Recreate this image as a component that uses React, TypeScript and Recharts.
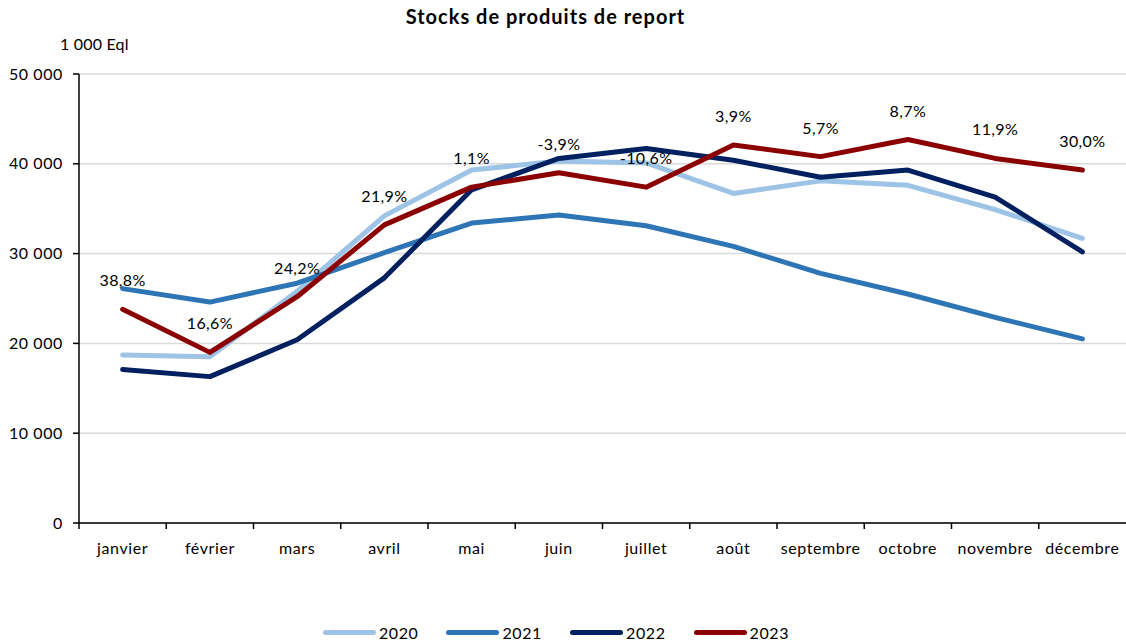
import { CartesianGrid, LabelList, Line, LineChart, XAxis, YAxis } from "recharts";

const months = [
  "janvier", "février", "mars", "avril", "mai", "juin",
  "juillet", "août", "septembre", "octobre", "novembre", "décembre",
];

const stock2020 = [18700, 18500, 25800, 34200, 39300, 40300, 40100, 36700, 38100, 37600, 34900, 31700];
const stock2021 = [26100, 24600, 26700, 30100, 33400, 34300, 33100, 30800, 27800, 25500, 22900, 20500];
const stock2022 = [17100, 16300, 20400, 27300, 37100, 40600, 41700, 40400, 38500, 39300, 36300, 30200];
const stock2023 = [23800, 19000, 25200, 33200, 37400, 39000, 37400, 42100, 40800, 42700, 40600, 39300];

const variations = [
  "38,8%", "16,6%", "24,2%", "21,9%", "1,1%", "-3,9%",
  "-10,6%", "3,9%", "5,7%", "8,7%", "11,9%", "30,0%",
];

const yTicks = [0, 10000, 20000, 30000, 40000, 50000];

const series = [
  { key: "y2020", name: "2020", values: stock2020, color: "#9DC3E6" },
  { key: "y2021", name: "2021", values: stock2021, color: "#2E75B6" },
  { key: "y2022", name: "2022", values: stock2022, color: "#002060" },
  { key: "y2023", name: "2023", values: stock2023, color: "#8B0000" },
];

const data = months.map((month, i) => {
  const row: Record<string, string | number> = { month, variation: variations[i] };
  series.forEach((s) => {
    row[s.key] = s.values[i];
  });
  return row;
});

const WIDTH = 1126;
const HEIGHT = 642;
const Y_AXIS_W = 79;
const BAND = (WIDTH - Y_AXIS_W) / months.length;
const FONT = "Lato, 'Open Sans', sans-serif";

const fmt = (v: number) => v.toLocaleString("fr-FR").replace(/\u202f|\u00a0/g, " ");

function MonthTick(props: any) {
  const { x, y, payload } = props;
  const half = BAND / 2;
  return (
    <g transform={`translate(${x},${y})`}>
      <line x1={-half} y1={-6} x2={-half} y2={0} stroke="#000" strokeWidth={1.5} />
      <text x={0} y={25} textAnchor="middle" fontSize={16} letterSpacing={0.6} fill="#000" fontFamily={FONT}>
        {payload.value}
      </text>
    </g>
  );
}

function VariationLabel(props: any) {
  const { x, y, value } = props;
  return (
    <text x={x} y={y - 23} textAnchor="middle" fontSize={16} letterSpacing={0.4} fill="#000" fontFamily={FONT}>
      {value}
    </text>
  );
}

export default function App() {
  return (
    <div style={{ position: "absolute", left: 0, top: 0, width: WIDTH, height: HEIGHT, fontFamily: FONT, background: "#fff" }}>
      <div style={{ position: "absolute", top: 4, left: 0, width: 1091, textAlign: "center", fontWeight: 700, fontSize: 20, letterSpacing: 1 }}>
        Stocks de produits de report
      </div>
      <div style={{ position: "absolute", top: 34, left: 60, fontSize: 16, letterSpacing: 0.2 }}>1 000 Eql</div>
      <LineChart width={WIDTH} height={HEIGHT} data={data} margin={{ top: 74, right: 0, left: 0, bottom: 79 }}>
        <CartesianGrid vertical={false} stroke="#D9D9D9" strokeWidth={1.5} />
        <XAxis
          dataKey="month"
          height={40}
          padding={{ left: BAND / 2, right: BAND / 2 }}
          axisLine={{ stroke: "#000", strokeWidth: 1.5 }}
          tickLine={false}
          tickSize={6}
          tickMargin={0}
          interval={0}
          tick={<MonthTick />}
        />
        <YAxis
          width={Y_AXIS_W}
          domain={[0, 50000]}
          ticks={yTicks}
          tickFormatter={fmt}
          axisLine={{ stroke: "#000", strokeWidth: 1.5 }}
          tickLine={{ stroke: "#000", strokeWidth: 1.5 }}
          tickSize={6}
          tickMargin={10}
          tick={{ fontSize: 16, fill: "#000", fontFamily: FONT, letterSpacing: 0.6 }}
        />
        {series.map((s) => (
          <Line
            key={s.key}
            dataKey={s.key}
            name={s.name}
            stroke={s.color}
            strokeWidth={5}
            strokeLinejoin="round"
            strokeLinecap="round"
            dot={false}
            activeDot={false}
            isAnimationActive={false}
          >
            {s.key === "y2023" && <LabelList dataKey="variation" content={<VariationLabel />} />}
          </Line>
        ))}
      </LineChart>
      <div style={{ position: "absolute", top: 623, left: 0, width: 1112, display: "flex", justifyContent: "center", gap: 28, fontSize: 16, letterSpacing: 0.6 }}>
        {series.map((s) => (
          <div key={s.key} style={{ display: "flex", alignItems: "center" }}>
            <span style={{ display: "inline-block", width: 53, height: 5, borderRadius: 3, background: s.color, marginRight: 3 }} />
            {s.name}
          </div>
        ))}
      </div>
    </div>
  );
}
